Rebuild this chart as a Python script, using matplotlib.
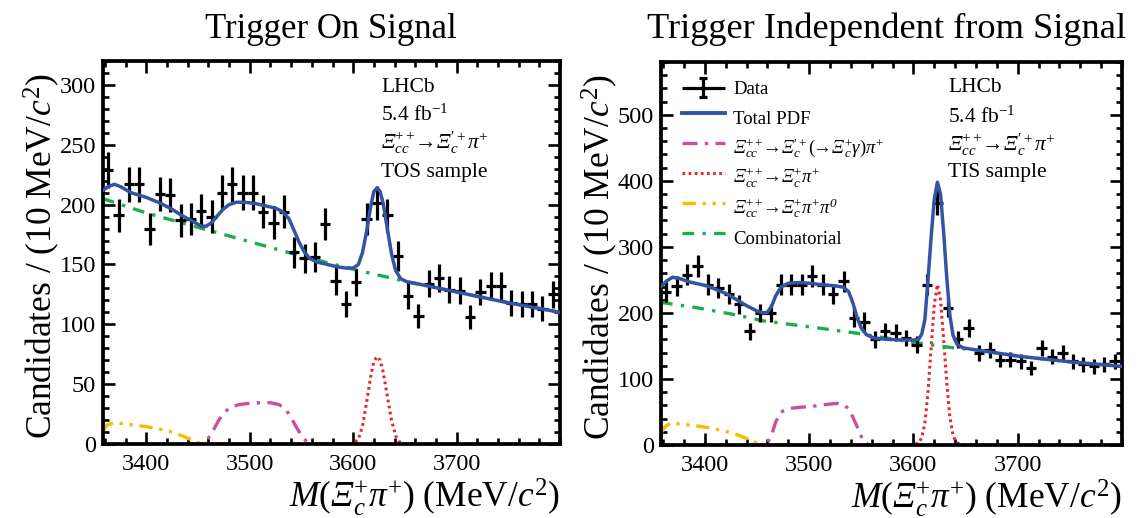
import numpy as np
import matplotlib
matplotlib.use("Agg")
import matplotlib.pyplot as plt
from matplotlib.ticker import MultipleLocator, FixedLocator
from matplotlib.lines import Line2D
from matplotlib.legend_handler import HandlerBase

plt.rcParams.update({
    "font.family": ["Liberation Serif", "DejaVu Serif"],
    "mathtext.fontset": "custom",
    "mathtext.rm": "Liberation Serif",
    "mathtext.it": "Liberation Serif:italic",
    "mathtext.sf": "Liberation Serif:italic",
    "mathtext.bf": "Liberation Serif:bold",
})

# ---------------- data ----------------
bin_centers = [3363 + 10 * k for k in range(44)]
bin_half_width = 5

tos_counts = [229, 191, 217, 217, 180, 209, 208, 187, 188, 195, 190, 210, 217, 210,
              210, 194, 185, 194, 160, 155, 156, 184, 136, 117, 135, 188, 201, 191,
              157, 124, 107, 134, 139, 129, 128, 106, 127, 132, 132, 118, 117, 117,
              113, 125]
tis_counts = [231, 241, 258, 271, 243, 238, 228, 213, 172, 200, 200, 243, 243, 243,
              256, 243, 228, 248, 193, 187, 160, 172, 170, 162, 152, 243, 367, 208,
              160, 177, 139, 144, 129, 129, 127, 117, 147, 134, 139, 127, 122, 119,
              122, 127]

# TOS fit components
tos_total_x = [3358, 3363, 3369, 3375, 3385, 3400, 3414, 3425, 3434, 3445, 3453, 3458,
               3463, 3468, 3474, 3480, 3487, 3495, 3505, 3515, 3525, 3532, 3538, 3543,
               3548, 3553, 3558, 3565, 3575, 3585, 3593, 3600, 3605, 3609, 3613, 3617,
               3620, 3623, 3626, 3629, 3633, 3637, 3641, 3646, 3652, 3660, 3700, 3750, 3800]
tos_total_y = [212, 215, 217, 215, 210, 206, 201, 196, 191, 186, 182, 182,
               185, 190, 196, 200, 202, 202, 201, 199, 197, 194, 188, 178,
               168, 160, 155, 152, 150, 148, 147, 147, 150, 160, 178, 199,
               211, 214, 211, 201, 180, 159, 145, 138, 135.5, 134.2, 127, 118, 110]
tos_comb_x = [3358, 3400, 3450, 3500, 3550, 3600, 3650, 3700, 3750, 3800]
tos_comb_y = [205, 193, 181, 169, 157, 146, 136, 127, 118, 110]
tos_gamma_x = [3440, 3455, 3460, 3465, 3470, 3476, 3482, 3490, 3500, 3510, 3520, 3528,
               3534, 3540, 3545, 3550, 3555, 3560, 3600]
tos_gamma_y = [0, 0, 5, 12, 20, 27, 31, 33, 34, 34.5, 34.5, 33, 30, 22, 14, 7, 2, 0, 0]
tos_sig_x = [3555, 3595, 3600, 3605, 3609, 3613, 3617, 3620, 3623, 3626, 3629, 3633,
             3637, 3641, 3645, 3650, 3660]
tos_sig_y = [0, 0, 0.5, 4, 15, 35, 57, 69, 73, 70, 60, 40, 20, 7, 1.5, 0, 0]
tos_pi0_x = [3358, 3362, 3368, 3378, 3390, 3400, 3415, 3425, 3431, 3438, 3444, 3450,
             3455, 3500]
tos_pi0_y = [11, 16, 17.5, 17, 15.5, 14.5, 12, 10, 8, 5.5, 3.5, 1, 0, 0]

# TIS fit components
tis_total_x = [3358, 3363, 3369, 3376, 3385, 3402, 3421, 3440, 3450, 3456, 3460, 3464,
               3468, 3473, 3480, 3490, 3500, 3511, 3525, 3533, 3538, 3542, 3546, 3550,
               3555, 3562, 3575, 3590, 3600, 3605, 3608, 3611, 3614, 3617, 3620, 3623,
               3626, 3629, 3632, 3635, 3638, 3642, 3648, 3660, 3703, 3750, 3800]
tis_total_y = [240, 248, 254, 252, 247, 241, 229, 211, 203, 200, 201, 210,
               226, 239, 245, 246, 245, 243, 241, 239, 232, 215, 193, 177,
               167, 162, 160, 159, 159, 160, 168, 190, 250, 315, 372, 398,
               380, 322, 253, 196, 166, 152, 147, 144, 134, 126, 119]
tis_comb_x = [3358, 3392, 3430, 3456, 3500, 3543, 3597, 3639, 3660, 3703, 3750, 3800]
tis_comb_y = [216, 208, 197, 188, 179, 170, 156, 147, 144, 134, 126, 119]
tis_gamma_x = [3440, 3455, 3460, 3464, 3468, 3473, 3480, 3490, 3500, 3510, 3520, 3527,
               3533, 3538, 3542, 3546, 3550, 3554, 3558, 3600]
tis_gamma_y = [0, 0, 3, 15, 35, 50, 55, 57, 58, 60, 62, 63, 61, 55, 42, 28, 13, 3, 0, 0]
tis_sig_x = [3555, 3595, 3600, 3605, 3608, 3611, 3614, 3617, 3620, 3623, 3626, 3629,
             3632, 3635, 3638, 3641, 3645, 3650, 3660]
tis_sig_y = [0, 0, 0.5, 3, 11, 33, 80, 147, 212, 243, 220, 160, 95, 42, 15, 4, 1, 0, 0]
tis_pi0_x = [3358, 3362, 3367, 3376, 3392, 3408, 3424, 3432, 3440, 3447, 3453, 3458, 3500]
tis_pi0_y = [18, 28, 33, 32, 29, 25, 19, 15, 10, 5, 2, 0, 0]

x_ticks = [3400, 3500, 3600, 3700]

# ---------------- styles ----------------
C_BLUE = "#3254a3"
C_MAG = "#c8509e"
C_RED = "#e8262b"
C_ORA = "#f6bd00"
C_GRN = "#1dae4c"
LS_MAG = (0, (4.5, 2.2, 1, 2.2))
LS_RED = (0, (0.9, 1.1))
LS_ORA = (0, (4, 2, 1, 2, 1, 2))
LS_GRN = (0, (3.5, 2.5, 1, 2.5))

ARROW = r"\!\!\rightarrow\!"
LBL_GAMMA = (r"$\mathsf{\Xi}_{cc}^{++}" + ARROW + r"\mathsf{\Xi}_{c}^{\prime +}"
             r"(\!\!\rightarrow\!\mathsf{\Xi}_{c}^{+}\gamma)\pi^{+}$")
LBL_SIG = r"$\mathsf{\Xi}_{cc}^{++}" + ARROW + r"\mathsf{\Xi}_{c}^{+}\pi^{+}$"
LBL_PI0 = (r"$\mathsf{\Xi}_{cc}^{++}" + ARROW +
           r"\mathsf{\Xi}_{c}^{+}\pi^{+}\pi^{\mathsf{0}}$")
LBL_DECAY = r"$\mathsf{\Xi}_{cc}^{++}" + ARROW + r"\mathsf{\Xi}_{c}^{\prime +}\pi^{+}$"

W, H = 1140, 518
fig = plt.figure(figsize=(W / 100, H / 100), dpi=100)

def px_axes(x0, y0, x1, y1):
    return fig.add_axes([x0 / W, 1 - y1 / H, (x1 - x0) / W, (y1 - y0) / H])

axL = px_axes(103, 61, 560, 444)
axR = px_axes(661, 62, 1122, 445)

def draw(ax, counts, total, comb, gamma, sig, pi0, ymax, ymaj, ymin):
    ax.errorbar(bin_centers, counts, xerr=bin_half_width, yerr=np.sqrt(counts),
                fmt="none", ecolor="black", elinewidth=2.3, capsize=0, zorder=3)
    ax.plot(gamma[0], gamma[1], color=C_MAG, lw=2.4, ls=LS_MAG, zorder=2)
    ax.plot(sig[0], sig[1], color=C_RED, lw=2.2, ls=LS_RED, zorder=2)
    ax.plot(pi0[0], pi0[1], color=C_ORA, lw=2.4, ls=LS_ORA, zorder=2)
    ax.plot(comb[0], comb[1], color=C_GRN, lw=2.4, ls=LS_GRN, zorder=2)
    ax.plot(total[0], total[1], color=C_BLUE, lw=2.5, zorder=4)
    ax.set_xlim(3358, 3800)
    ax.set_ylim(0, ymax)
    ax.xaxis.set_major_locator(FixedLocator(x_ticks))
    ax.xaxis.set_minor_locator(MultipleLocator(20))
    ax.yaxis.set_major_locator(MultipleLocator(ymaj))
    ax.yaxis.set_minor_locator(MultipleLocator(ymin))
    ax.tick_params(which="both", direction="in", top=True, right=True, width=1.9,
                   labelsize=17.5, color="black")
    ax.tick_params(which="major", length=8.5)
    ax.tick_params(which="minor", length=4.5)
    ax.tick_params(axis="x", pad=7)
    ax.tick_params(axis="y", pad=5)
    for s in ax.spines.values():
        s.set_linewidth(2.7)
    ax.set_xlabel(r"$M(\mathsf{\Xi}_{c}^{+}\pi^{+})$ (MeV/$c^{2}$)", fontsize=25.5,
                  ha="right")
    ax.xaxis.set_label_coords(1.0, -0.085)
    ax.set_ylabel(r"Candidates / (10 MeV/$c^{2}$)", fontsize=25.5)
    ax.yaxis.set_label_coords(-0.09, 0.49)

draw(axL, tos_counts, (tos_total_x, tos_total_y), (tos_comb_x, tos_comb_y),
     (tos_gamma_x, tos_gamma_y), (tos_sig_x, tos_sig_y), (tos_pi0_x, tos_pi0_y),
     320, 50, 10)
draw(axR, tis_counts, (tis_total_x, tis_total_y), (tis_comb_x, tis_comb_y),
     (tis_gamma_x, tis_gamma_y), (tis_sig_x, tis_sig_y), (tis_pi0_x, tis_pi0_y),
     580, 100, 20)

# titles
fig.text(331 / W, 1 - 38 / H, "Trigger On Signal", ha="center", va="baseline", fontsize=25)
fig.text(887 / W, 1 - 38 / H, "Trigger Independent from Signal", ha="center",
         va="baseline", fontsize=26.2)

# annotations
def annot(x, ys, lines):
    for y, t in zip(ys, lines):
        fig.text(x / W, 1 - y / H, t, ha="left", va="center", fontsize=15.5)

annot(381, [87, 115, 143, 172], ["LHCb", r"5.4 fb$^{-1}$", LBL_DECAY, "TOS sample"])
annot(948, [88, 117, 145, 172], ["LHCb", r"5.4 fb$^{-1}$", LBL_DECAY, "TIS sample"])

# legend (right panel)
class DataHandler(HandlerBase):
    def create_artists(self, legend, orig_handle, xdescent, ydescent, width, height,
                       fontsize, trans):
        cx = 0.5 * width - xdescent
        cy = 0.5 * height - ydescent
        half = 7.0
        cap = 3.0
        arts = [
            Line2D([-xdescent, width - xdescent], [cy, cy]),
            Line2D([cx, cx], [cy - half, cy + half]),
            Line2D([cx - cap, cx + cap], [cy - half, cy - half]),
            Line2D([cx - cap, cx + cap], [cy + half, cy + half]),
        ]
        for a in arts:
            a.set_color("black")
            a.set_linewidth(2.3)
            a.set_solid_capstyle("butt")
            a.set_transform(trans)
        return arts

data_handle = Line2D([], [], color="black")
handles = [
    data_handle,
    Line2D([], [], color=C_BLUE, lw=2.8),
    Line2D([], [], color=C_MAG, lw=2.4, ls=LS_MAG),
    Line2D([], [], color=C_RED, lw=2.2, ls=LS_RED),
    Line2D([], [], color=C_ORA, lw=2.4, ls=LS_ORA),
    Line2D([], [], color=C_GRN, lw=2.4, ls=LS_GRN),
]
labels = ["Data", "Total PDF", LBL_GAMMA, LBL_SIG, LBL_PI0, "Combinatorial"]
axR.legend(handles, labels, handler_map={data_handle: DataHandler()},
           loc="upper left", bbox_to_anchor=(0.045, 0.972), frameon=False,
           fontsize=13.5, handlelength=2.3, handletextpad=0.45, labelspacing=0.0,
           handleheight=2.085, borderpad=0, borderaxespad=0)

fig.savefig("out.png", dpi=100)
